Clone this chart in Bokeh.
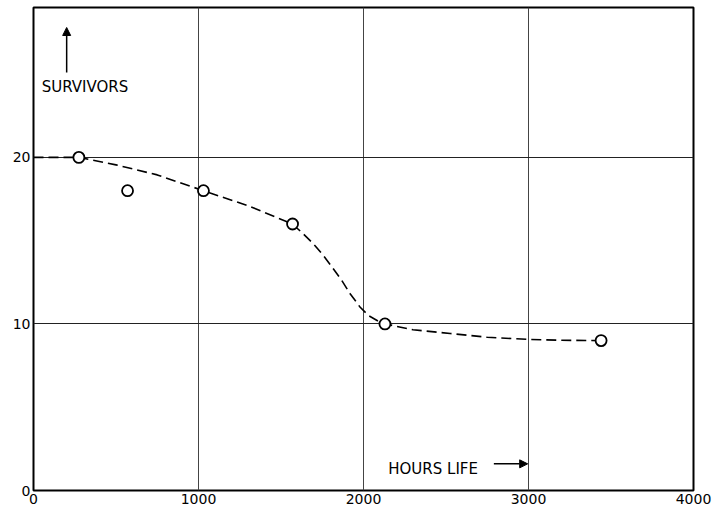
from bokeh.plotting import figure
from bokeh.models import Label, Arrow, NormalHead, FixedTicker, Range1d
from bokeh.embed import file_html
from bokeh.resources import INLINE

# Observed points (hours life, survivors)
obs_hours = [275, 570, 1030, 1570, 2130, 3440]
obs_survivors = [20, 18, 18, 16, 10, 9]

# Dashed fitted curve
curve_hours = [0, 275, 500, 750, 1030, 1300, 1570, 1636, 1697, 1758, 1818, 1869, 1920,
               1980, 2031, 2101, 2132, 2300, 2525, 2750, 3000, 3200, 3440]
curve_survivors = [20.0, 20.0, 19.55, 18.95, 18.0, 17.1, 16.0, 15.4, 14.8, 14.1, 13.3, 12.6, 11.8,
                   11.0, 10.5, 10.1, 10.0, 9.65, 9.43, 9.2, 9.07, 9.02, 9.0]

x_ticks = [0, 1000, 2000, 3000, 4000]
y_ticks = [0, 10, 20]

FONT = "DejaVu Sans"

p = figure(frame_width=660, frame_height=483, output_backend="svg", toolbar_location=None,
           x_range=Range1d(0, 4000), y_range=Range1d(0, 29),
           min_border_left=33, min_border_right=30, min_border_top=7, min_border_bottom=18)

p.background_fill_color = "white"
p.border_fill_color = "white"
p.outline_line_color = "black"
p.outline_line_width = 2

p.xaxis.ticker = FixedTicker(ticks=x_ticks)
p.yaxis.ticker = FixedTicker(ticks=y_ticks)
for ax in (p.xaxis, p.yaxis):
    ax.axis_line_color = None
    ax.major_tick_line_color = None
    ax.minor_tick_line_color = None
    ax.major_tick_out = 0
    ax.major_tick_in = 0
    ax.major_label_text_font = FONT
    ax.major_label_text_font_size = "14px"
    ax.major_label_text_color = "black"
    ax.major_label_standoff = 3

p.xgrid.ticker = FixedTicker(ticks=[1000, 2000, 3000])
p.ygrid.ticker = FixedTicker(ticks=[10, 20])
p.xgrid.grid_line_color = "#444444"
p.ygrid.grid_line_color = "#222222"
p.xgrid.grid_line_width = 1
p.ygrid.grid_line_width = 1

p.line(curve_hours, curve_survivors, line_color="black", line_width=1.6, line_dash="10 5")
p.scatter(obs_hours, obs_survivors, size=11, marker="circle", fill_color="white",
          line_color="black", line_width=1.8)

p.add_layout(Label(x=50, y=24.2, text="SURVIVORS", text_font=FONT, text_baseline="alphabetic",
                   text_font_size="15px", text_color="black"))
p.add_layout(Arrow(x_start=201, y_start=25.1, x_end=201, y_end=27.8,
                   line_color="black", line_width=1.5,
                   end=NormalHead(size=8, fill_color="black", line_color="black")))

p.add_layout(Label(x=2150, y=1.32, text="HOURS LIFE", text_font=FONT, text_baseline="alphabetic",
                   text_font_size="15px", text_color="black"))
p.add_layout(Arrow(x_start=2790, y_start=1.6, x_end=2995, y_end=1.6,
                   line_color="black", line_width=1.5,
                   end=NormalHead(size=8, fill_color="black", line_color="black")))

open("out.html", "w").write(file_html(p, INLINE))
